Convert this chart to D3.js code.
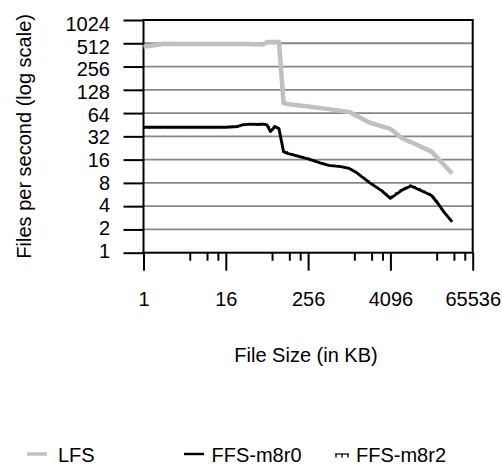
<!DOCTYPE html>
<html>
<head>
<meta charset="utf-8">
<script src="https://cdn.jsdelivr.net/npm/d3@7"></script>
<style>
  body { margin: 0; background: #fff; }
  text { font-family: "Liberation Sans", Arial, sans-serif; font-size: 20px; fill: #000; }
</style>
</head>
<body>
<div id="chart"></div>
<script>

// data (file size in KB -> files per second)
var lfsSizes  = [1, 2, 4, 8, 16, 32, 56, 64, 96, 112, 128, 192, 256, 512, 1024, 1536, 2048, 4096, 6144, 8192, 16384, 32768];
var lfsValues = [460, 505, 500, 500, 500, 500, 494, 530, 530, 86, 84, 80, 78, 72, 66, 55, 48, 40, 30, 27, 20.3, 10.6];

var ffsSizes   = [1, 2, 4, 8, 12, 16, 24, 28, 36, 48, 56, 64, 72, 84, 96, 112, 128, 192, 256, 384, 512, 768, 1024, 1280, 2048, 3072, 4096, 6144, 8192, 12288, 16384, 20480, 24576, 32768];
var m8r0Values = [42, 42, 42, 42, 42, 42, 43, 45, 46, 45.5, 46, 45, 37, 43, 40, 20.3, 19.3, 17.5, 16.4, 14.5, 13.5, 13.0, 12.3, 11.0, 8.0, 6.3, 5.05, 6.5, 7.3, 6.2, 5.5, 4.3, 3.4, 2.5];
var m8r2Values = [41, 41.5, 41.5, 41.5, 42, 42, 44, 45.5, 46.5, 47, 47, 46, 41, 44, 41, 21, 20, 17.8, 16.8, 14.8, 13.6, 13.2, 12.5, 11.2, 8.3, 6.5, 5.3, 6.8, 7.6, 6.4, 5.7, 4.5, 3.5, 2.6];

var yTicks = [1, 2, 4, 8, 16, 32, 64, 128, 256, 512, 1024];
var xTicks = [1, 16, 256, 4096, 65536];
var xMinorTicks = [4.75, 8.5, 12.25, 76, 136, 196, 1216, 2176, 3136, 19456, 34816, 50176];

var seriesNames = ['LFS', 'FFS-m8r0', 'FFS-m8r2'];

var width = 502, height = 467;
var plotLeft = 143.5, plotRight = 472.7, plotTop = 20, plotBottom = 252.7;

var svg = d3.select('#chart')
			.append('svg')
			.attr('width', width)
			.attr('height', height);

var x = d3.scaleLog().base(2).domain([1, 65536]).range([plotLeft, plotRight]);
var y = d3.scaleLog().base(2).domain([1, 1024]).range([plotBottom, plotTop]);
// the tick labels sit on a slightly tighter spacing than the ticks
var yLab = d3.scaleLog().base(2).domain([1, 1024]).range([257, 30.7]);

// grid
svg.append('g')
	.selectAll('line')
	.data(yTicks.filter(d => d > 1 && d < 1024))
	.enter()
		.append('line')
		.attr('x1', plotLeft).attr('x2', plotRight)
		.attr('y1', d => y(d)).attr('y2', d => y(d))
		.attr('stroke', '#878787')
		.attr('stroke-width', 1.8);

// y axis
var gy = svg.append('g')
			.attr('transform', 'translate(' + plotLeft + ',0)')
			.call(d3.axisLeft(y).tickValues(yTicks).tickFormat(d3.format('d')).tickSize(20).tickPadding(13.5));
gy.select('.domain').remove();
gy.selectAll('.tick line').attr('stroke', '#000').attr('stroke-width', 2);
gy.selectAll('.tick text')
	.attr('dy', 0)
	.attr('y', d => yLab(d) - y(d))
	.style('font-size', '20px')
	.style('font-family', '"Liberation Sans", Arial, sans-serif');

// x axis, major + minor
var gx = svg.append('g')
			.attr('transform', 'translate(0,' + plotBottom + ')')
			.call(d3.axisBottom(x).tickValues(xTicks).tickFormat(d3.format('d')).tickSize(18));
gx.select('.domain').remove();
gx.selectAll('.tick line').attr('stroke', '#000').attr('stroke-width', 2);
gx.selectAll('.tick text')
	.attr('dy', 0)
	.attr('y', 306 - plotBottom)
	.style('font-size', '20px')
	.style('font-family', '"Liberation Sans", Arial, sans-serif');

var gxm = svg.append('g')
			.attr('transform', 'translate(0,' + plotBottom + ')')
			.call(d3.axisBottom(x).tickValues(xMinorTicks).tickFormat('').tickSize(8));
gxm.select('.domain').remove();
gxm.selectAll('.tick line').attr('stroke', '#000').attr('stroke-width', 2);

// frame
svg.append('rect')
	.attr('x', plotLeft).attr('y', plotTop)
	.attr('width', plotRight - plotLeft).attr('height', plotBottom - plotTop)
	.attr('fill', 'none')
	.attr('stroke', '#000')
	.attr('stroke-width', 2);

// series
var line = d3.line()
			.x(d => x(d[0]))
			.y(d => y(d[1]));

svg.append('path')
	.datum(d3.zip(lfsSizes, lfsValues))
	.attr('d', line)
	.attr('fill', 'none')
	.attr('stroke', '#c0c0c0')
	.attr('stroke-width', 4.5)
	.attr('stroke-linejoin', 'round');

svg.append('path')
	.datum(d3.zip(ffsSizes, m8r0Values))
	.attr('d', line)
	.attr('fill', 'none')
	.attr('stroke', '#000')
	.attr('stroke-width', 2.9)
	.attr('stroke-linejoin', 'round');

svg.append('path')
	.datum(d3.zip(ffsSizes, m8r2Values))
	.attr('d', line)
	.attr('fill', 'none')
	.attr('stroke', '#000')
	.attr('stroke-width', 1.4)
	.attr('stroke-dasharray', '1.5,4');

// axis titles
svg.append('text')
	.attr('transform', 'translate(31,' + ((plotTop + plotBottom) / 2) + ') rotate(-90)')
	.attr('text-anchor', 'middle')
	.text('Files per second (log scale)');

svg.append('text')
	.attr('x', 306)
	.attr('y', 361.5)
	.attr('text-anchor', 'middle')
	.text('File Size (in KB)');

// legend
var legY = 454;
var leg = [
	{ x1: 27, x2: 47, tx: 58, color: '#c0c0c0', w: 3.5 },
	{ x1: 184, x2: 204, tx: 211.5, color: '#000', w: 2.4 },
	{ x1: 335, x2: 349, tx: 356, color: '#000', w: 1.2 }
];

leg.forEach((l, i) => {
	svg.append('line')
		.attr('x1', l.x1).attr('x2', l.x2)
		.attr('y1', legY).attr('y2', legY)
		.attr('stroke', l.color)
		.attr('stroke-width', l.w);

	if(i == 2) {
		[l.x1 + 1, (l.x1 + l.x2) / 2, l.x2 - 1].forEach(tx => {
			svg.append('line')
				.attr('x1', tx).attr('x2', tx)
				.attr('y1', legY).attr('y2', legY + 3.5)
				.attr('stroke', '#000')
				.attr('stroke-width', 1.3);
		});
	}

	svg.append('text')
		.attr('x', l.tx)
		.attr('y', 461.7)
		.text(seriesNames[i]);
});

</script>
</body>
</html>
